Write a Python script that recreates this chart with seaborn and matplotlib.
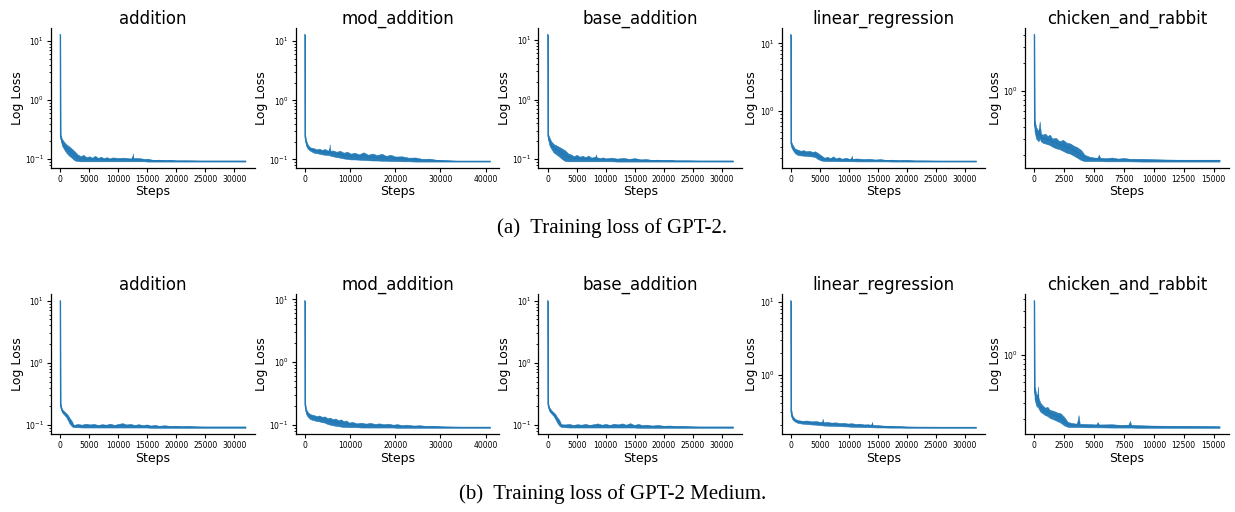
import pandas as pd
import numpy as np
import matplotlib
matplotlib.use("Agg")
import matplotlib.pyplot as plt
import seaborn as sns

tasks = ["addition", "mod_addition", "base_addition", "linear_regression", "chicken_and_rabbit"]
captions = ["(a)  Training loss of GPT-2.", "(b)  Training loss of GPT-2 Medium."]

# ---- GPT-2 (row a): steps, lower edge and upper edge of the noisy loss band ----
a_add_steps = [0, 40, 300, 600, 1000, 1500, 2000, 2500, 3000, 3500, 4000, 4500, 5000, 5500, 6000,
               6500, 7000, 7500, 8000, 8500, 9000, 10000, 11000, 12000, 12400, 12500, 12600, 13000, 14000, 14500,
               15000, 16000, 17000, 18000, 19000, 20000, 22000, 24000, 26000, 31900]
a_add_lo = [13, 0.22, 0.17, 0.15, 0.13, 0.115, 0.105, 0.095, 0.093, 0.092, 0.092, 0.092, 0.092, 0.092, 0.092,
            0.092, 0.092, 0.092, 0.092, 0.092, 0.092, 0.092, 0.092, 0.092, 0.092, 0.092, 0.092, 0.092, 0.092, 0.092,
            0.091, 0.091, 0.091, 0.091, 0.091, 0.091, 0.091, 0.091, 0.091, 0.091]
a_add_hi = [13, 0.26, 0.22, 0.2, 0.18, 0.165, 0.15, 0.135, 0.12, 0.113, 0.118, 0.108, 0.112, 0.106, 0.114,
            0.105, 0.11, 0.104, 0.108, 0.103, 0.107, 0.105, 0.106, 0.103, 0.104, 0.125, 0.104, 0.105, 0.103, 0.1,
            0.102, 0.097, 0.098, 0.096, 0.097, 0.095, 0.095, 0.094, 0.094, 0.094]

a_mod_steps = [0, 40, 300, 700, 1200, 2000, 2600, 3200, 3800, 4400, 5000, 5400, 5500, 5600, 6200,
               7000, 7800, 8600, 9400, 10200, 11000, 12000, 13000, 14000, 15000, 16000, 17000, 18000, 19000, 20000,
               21500, 23000, 24500, 26000, 27500, 29000, 30500, 32000, 34000, 41000]
a_mod_lo = [13, 0.22, 0.17, 0.15, 0.14, 0.13, 0.128, 0.125, 0.122, 0.12, 0.12, 0.118, 0.118, 0.116, 0.113,
            0.11, 0.107, 0.104, 0.102, 0.1, 0.1, 0.099, 0.098, 0.097, 0.096, 0.096, 0.095, 0.095, 0.094, 0.094,
            0.093, 0.093, 0.092, 0.092, 0.092, 0.092, 0.092, 0.092, 0.092, 0.092]
a_mod_hi = [13, 0.27, 0.21, 0.175, 0.16, 0.155, 0.148, 0.152, 0.145, 0.15, 0.143, 0.14, 0.18, 0.14, 0.142,
            0.135, 0.14, 0.13, 0.135, 0.125, 0.13, 0.122, 0.132, 0.12, 0.126, 0.118, 0.125, 0.115, 0.12, 0.112,
            0.113, 0.107, 0.108, 0.102, 0.103, 0.099, 0.097, 0.096, 0.094, 0.094]

a_base_steps = [0, 40, 300, 600, 1000, 1500, 2000, 2500, 3000, 3500, 4000, 4500, 5000, 5500, 6000,
                6500, 7000, 7500, 8200, 8300, 8400, 9000, 9500, 10000, 11000, 12000, 13000, 14000, 15000, 16000,
                17000, 18000, 19000, 20000, 21000, 22000, 24000, 26000, 28000, 31900]
a_base_lo = [12.5, 0.22, 0.17, 0.15, 0.13, 0.12, 0.11, 0.1, 0.093, 0.092, 0.092, 0.092, 0.092, 0.092, 0.092,
             0.092, 0.092, 0.092, 0.092, 0.092, 0.092, 0.092, 0.092, 0.092, 0.092, 0.091, 0.091, 0.091, 0.091, 0.091,
             0.091, 0.091, 0.091, 0.091, 0.091, 0.091, 0.091, 0.091, 0.091, 0.091]
a_base_hi = [12.5, 0.27, 0.23, 0.2, 0.18, 0.17, 0.16, 0.15, 0.14, 0.125, 0.12, 0.112, 0.118, 0.11, 0.114,
             0.108, 0.115, 0.106, 0.11, 0.12, 0.108, 0.104, 0.107, 0.103, 0.106, 0.102, 0.105, 0.101, 0.104, 0.099,
             0.1, 0.097, 0.098, 0.096, 0.097, 0.095, 0.095, 0.094, 0.094, 0.094]

a_lin_steps = [0, 40, 300, 700, 1200, 1700, 2200, 2700, 3200, 3700, 4200, 4700, 5300, 5800, 6300,
               6800, 7300, 7800, 8300, 8800, 9500, 10000, 10400, 10500, 10600, 11500, 12500, 13500, 14500, 15500,
               16500, 17500, 18500, 20000, 21500, 23000, 24500, 26000, 28000, 31900]
a_lin_lo = [13.5, 0.3, 0.27, 0.24, 0.225, 0.222, 0.22, 0.218, 0.216, 0.214, 0.21, 0.195, 0.186, 0.184, 0.183,
            0.183, 0.183, 0.183, 0.182, 0.182, 0.182, 0.182, 0.182, 0.182, 0.182, 0.181, 0.181, 0.181, 0.181, 0.181,
            0.181, 0.18, 0.18, 0.18, 0.18, 0.18, 0.18, 0.18, 0.18, 0.18]
a_lin_hi = [13.5, 0.36, 0.32, 0.28, 0.27, 0.26, 0.265, 0.255, 0.26, 0.25, 0.255, 0.24, 0.22, 0.205, 0.212,
            0.202, 0.215, 0.2, 0.208, 0.198, 0.205, 0.198, 0.2, 0.22, 0.198, 0.2, 0.195, 0.197, 0.193, 0.195,
            0.19, 0.192, 0.188, 0.189, 0.186, 0.186, 0.185, 0.184, 0.184, 0.184]

a_chk_steps = [0, 20, 150, 350, 450, 550, 700, 900, 1100, 1300, 1500, 1800, 2100, 2400, 2700,
               3000, 3300, 3600, 3900, 4200, 4600, 5000, 5300, 5400, 5500, 6000, 6500, 7000, 7500, 8000,
               9000, 10000, 11000, 12000, 13500, 15500]
a_chk_lo = [4.1, 0.36, 0.3, 0.28, 0.3, 0.28, 0.27, 0.265, 0.26, 0.255, 0.245, 0.235, 0.23, 0.22, 0.21,
            0.205, 0.195, 0.185, 0.175, 0.17, 0.17, 0.17, 0.17, 0.17, 0.17, 0.169, 0.169, 0.169, 0.169, 0.169,
            0.168, 0.168, 0.168, 0.168, 0.168, 0.168]
a_chk_hi = [4.1, 0.48, 0.4, 0.36, 0.46, 0.34, 0.33, 0.34, 0.32, 0.33, 0.3, 0.305, 0.28, 0.29, 0.27,
            0.265, 0.25, 0.24, 0.225, 0.2, 0.19, 0.186, 0.185, 0.2, 0.185, 0.183, 0.186, 0.181, 0.184, 0.18,
            0.18, 0.178, 0.177, 0.176, 0.176, 0.176]

# ---- GPT-2 Medium (row b) ----
b_add_steps = [0, 40, 300, 700, 1000, 1300, 1600, 2000, 2300, 3000, 3700, 4400, 5100, 5800, 6500,
               7200, 7900, 8600, 9300, 10000, 10700, 11400, 12100, 12800, 13500, 14200, 14900, 15600, 16300, 17000,
               18000, 19000, 20000, 21000, 22000, 23000, 24500, 26000, 28000, 31900]
b_add_lo = [10, 0.19, 0.16, 0.145, 0.135, 0.12, 0.105, 0.095, 0.092, 0.092, 0.091, 0.091, 0.091, 0.091, 0.091,
            0.091, 0.091, 0.091, 0.091, 0.091, 0.091, 0.091, 0.091, 0.091, 0.091, 0.091, 0.091, 0.09, 0.09, 0.09,
            0.09, 0.09, 0.09, 0.09, 0.09, 0.09, 0.09, 0.09, 0.09, 0.09]
b_add_hi = [10, 0.22, 0.18, 0.165, 0.155, 0.145, 0.13, 0.115, 0.1, 0.104, 0.101, 0.105, 0.102, 0.104, 0.1,
            0.103, 0.101, 0.105, 0.1, 0.104, 0.107, 0.102, 0.104, 0.1, 0.103, 0.099, 0.102, 0.098, 0.1, 0.097,
            0.099, 0.096, 0.097, 0.095, 0.096, 0.095, 0.094, 0.094, 0.094, 0.094]

b_mod_steps = [0, 40, 300, 700, 1200, 2000, 2600, 3200, 3800, 4400, 5000, 5600, 6200, 6800, 7400,
               8000, 8600, 9200, 9800, 10500, 11500, 12500, 13500, 14500, 15500, 16500, 17500, 18500, 19500, 20500,
               21500, 22500, 24000, 25500, 27000, 28500, 30000, 32000, 35000, 41000]
b_mod_lo = [9.5, 0.19, 0.15, 0.135, 0.125, 0.12, 0.117, 0.115, 0.112, 0.11, 0.105, 0.102, 0.1, 0.098, 0.097,
            0.095, 0.094, 0.094, 0.093, 0.093, 0.093, 0.092, 0.092, 0.092, 0.092, 0.092, 0.092, 0.092, 0.092, 0.091,
            0.091, 0.091, 0.091, 0.091, 0.091, 0.091, 0.091, 0.091, 0.091, 0.091]
b_mod_hi = [9.5, 0.24, 0.18, 0.16, 0.15, 0.145, 0.14, 0.143, 0.136, 0.138, 0.13, 0.132, 0.125, 0.128, 0.12,
            0.124, 0.116, 0.119, 0.11, 0.113, 0.107, 0.11, 0.106, 0.109, 0.105, 0.107, 0.104, 0.106, 0.102, 0.104,
            0.1, 0.102, 0.099, 0.1, 0.097, 0.098, 0.096, 0.095, 0.094, 0.094]

b_base_steps = [0, 40, 300, 700, 1000, 1300, 1600, 2000, 2300, 3000, 3700, 4400, 5100, 5800, 6500,
                7200, 7900, 8600, 9300, 10000, 10700, 11400, 12100, 12800, 13500, 14200, 14900, 15600, 16300, 17000,
                18000, 19000, 20000, 21000, 22000, 23000, 24500, 26000, 28000, 31900]
b_base_lo = [10, 0.2, 0.165, 0.15, 0.14, 0.125, 0.11, 0.097, 0.093, 0.092, 0.091, 0.091, 0.091, 0.091, 0.091,
             0.091, 0.091, 0.091, 0.091, 0.091, 0.091, 0.091, 0.091, 0.091, 0.091, 0.091, 0.091, 0.09, 0.09, 0.09,
             0.09, 0.09, 0.09, 0.09, 0.09, 0.09, 0.09, 0.09, 0.09, 0.09]
b_base_hi = [10, 0.23, 0.19, 0.17, 0.16, 0.15, 0.135, 0.12, 0.103, 0.102, 0.104, 0.1, 0.103, 0.101, 0.104,
             0.1, 0.103, 0.106, 0.101, 0.104, 0.1, 0.105, 0.102, 0.106, 0.101, 0.107, 0.1, 0.104, 0.099, 0.101,
             0.098, 0.1, 0.097, 0.098, 0.096, 0.096, 0.095, 0.094, 0.094, 0.094]

b_lin_steps = [0, 40, 300, 700, 1200, 2000, 2800, 3600, 4400, 5000, 5400, 5500, 5600, 6300, 7000,
               7700, 8400, 9100, 9800, 10500, 11200, 11900, 12600, 13300, 13900, 14000, 14100, 15000, 16000, 17000,
               18000, 19000, 20000, 21500, 23000, 24500, 26000, 27500, 29000, 31900]
b_lin_lo = [10.5, 0.27, 0.24, 0.225, 0.215, 0.21, 0.207, 0.205, 0.203, 0.2, 0.199, 0.199, 0.198, 0.197, 0.196,
            0.195, 0.194, 0.193, 0.192, 0.19, 0.19, 0.189, 0.188, 0.188, 0.187, 0.187, 0.187, 0.186, 0.186, 0.185,
            0.185, 0.185, 0.184, 0.184, 0.184, 0.184, 0.184, 0.184, 0.184, 0.184]
b_lin_hi = [10.5, 0.34, 0.27, 0.245, 0.235, 0.23, 0.232, 0.226, 0.228, 0.222, 0.222, 0.245, 0.22, 0.222, 0.217,
            0.219, 0.214, 0.216, 0.211, 0.213, 0.208, 0.21, 0.205, 0.206, 0.202, 0.222, 0.2, 0.2, 0.197, 0.196,
            0.194, 0.193, 0.191, 0.19, 0.189, 0.189, 0.188, 0.188, 0.188, 0.188]

b_chk_steps = [0, 20, 150, 250, 300, 350, 500, 700, 900, 1100, 1300, 1600, 1900, 2200, 2500,
               2800, 3200, 3600, 3700, 3800, 4500, 5200, 5300, 5400, 6500, 7200, 7900, 8000, 8100, 8600,
               10000, 11500, 13000, 15500]
b_chk_lo = [3.85, 0.33, 0.28, 0.27, 0.27, 0.26, 0.24, 0.23, 0.22, 0.215, 0.205, 0.198, 0.19, 0.182, 0.17,
            0.164, 0.163, 0.163, 0.163, 0.163, 0.162, 0.162, 0.162, 0.162, 0.161, 0.161, 0.161, 0.161, 0.161, 0.16,
            0.16, 0.16, 0.16, 0.16]
b_chk_hi = [3.85, 0.45, 0.38, 0.35, 0.45, 0.34, 0.3, 0.28, 0.265, 0.27, 0.25, 0.245, 0.235, 0.23, 0.21,
            0.185, 0.18, 0.177, 0.22, 0.177, 0.176, 0.174, 0.185, 0.174, 0.175, 0.172, 0.173, 0.19, 0.172, 0.171,
            0.169, 0.168, 0.167, 0.166]

rows = [
    [(a_add_steps, a_add_lo, a_add_hi), (a_mod_steps, a_mod_lo, a_mod_hi), (a_base_steps, a_base_lo, a_base_hi),
     (a_lin_steps, a_lin_lo, a_lin_hi), (a_chk_steps, a_chk_lo, a_chk_hi)],
    [(b_add_steps, b_add_lo, b_add_hi), (b_mod_steps, b_mod_lo, b_mod_hi), (b_base_steps, b_base_lo, b_base_hi),
     (b_lin_steps, b_lin_lo, b_lin_hi), (b_chk_steps, b_chk_lo, b_chk_hi)],
]

plt.rcParams["font.family"] = ["DejaVu Sans"]

fig = plt.figure(figsize=(12.35, 5.12), dpi=100)

lefts = [0.0413, 0.2393, 0.4360, 0.6328, 0.8300]
bottoms = [0.672, 0.152]
width, height = 0.165, 0.273
cap_y = [1 - 228 / 512, 1 - 494 / 512]
blue = "#1f77b4"

for r, row in enumerate(rows):
    for c, (steps, lo, hi) in enumerate(row):
        ax = fig.add_axes([lefts[c], bottoms[r], width, height])
        df = pd.DataFrame({"step": steps + steps, "loss": lo + hi})
        sns.lineplot(data=df, x="step", y="loss", estimator="mean", errorbar=("pi", 100),
                     color=blue, lw=0.8, err_kws={"alpha": 0.95, "linewidth": 0.4, "edgecolor": blue},
                     ax=ax)
        ax.set_yscale("log")
        ax.set_title(tasks[c], fontsize=12, pad=3)
        ax.set_xlabel("Steps", fontsize=9, labelpad=1)
        ax.set_ylabel("Log Loss", fontsize=9, labelpad=1)
        ax.tick_params(axis="both", which="major", labelsize=5.5, length=3, width=0.8, pad=2)
        ax.tick_params(axis="y", which="minor", length=1.8, width=0.6)
        for s in ["left", "bottom"]:
            ax.spines[s].set_linewidth(0.9)
        sns.despine(ax=ax)
    fig.text(0.496, cap_y[r], captions[r], family="Liberation Serif", fontsize=15,
             ha="center", va="center")

fig.savefig("out.png", dpi=100)
